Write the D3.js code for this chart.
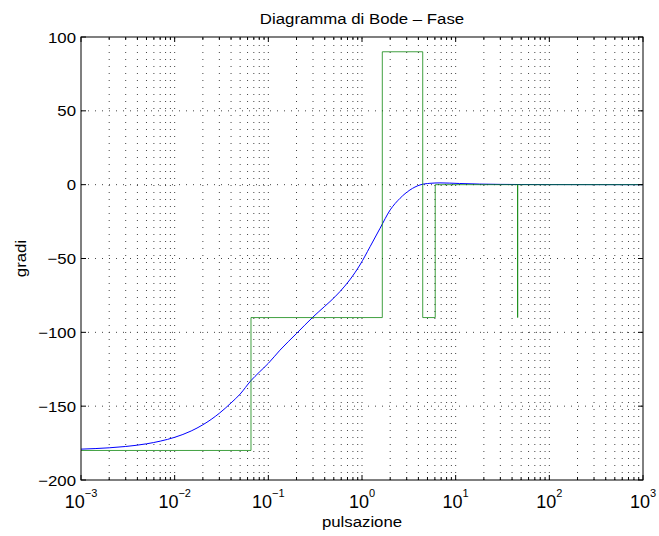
<!DOCTYPE html>
<html>
<head>
<meta charset="utf-8">
<script src="https://cdn.jsdelivr.net/npm/d3@7"></script>
<style>
  html, body { margin: 0; padding: 0; background: #fff; }
  svg { display: block; }
  text { font-family: "Liberation Sans", Arial, Helvetica, sans-serif; fill: #000; }
</style>
</head>
<body>
<svg id="chart" width="659" height="536"></svg>
<script>
// ---- data ----
const titleText = "Diagramma di Bode \u2013 Fase";
const xLabelText = "pulsazione";
const yLabelText = "gradi";

const xTickExponents = [-3, -2, -1, 0, 1, 2, 3];
const yTicks = [-200, -150, -100, -50, 0, 50, 100];

// actual phase (blue)
const phaseW   = [0.001, 0.002, 0.003, 0.005, 0.007, 0.01, 0.015, 0.02, 0.03, 0.04, 0.05, 0.065, 0.08, 0.1, 0.133, 0.2, 0.3, 0.4, 0.455, 0.58, 0.74, 0.95, 1.22, 1.56, 2.0, 2.55, 3.25, 4.16, 5.3, 6.8, 11, 18, 50, 100, 1000];
const phaseDeg = [-179.1, -178.2, -177.3, -175.5, -173.7, -171.1, -166.8, -162.6, -154.8, -147.8, -141.8, -132.8, -127.0, -121.0, -112.1, -100.8, -89.6, -82.4, -79.2, -72.5, -64.5, -54.4, -42.0, -29.5, -17.1, -9.2, -3.6, -0.2, 0.9, 1.2, 0.8, 0.4, 0.1, 0.05, 0];

// asymptotic phase (green)
const asymW   = [0.001, 0.0653, 0.0653, 1.647, 1.647, 4.45, 4.45, 6.05, 6.05, 45.9, 45.9, 45.9, 1000];
const asymDeg = [-180, -180, -90, -90, 90, 90, -90, -90, 0, 0, -90, 0, 0];

// ---- layout ----
const L = 81, R = 643, T = 37, B = 480;
const svg = d3.select("#chart");

const x = d3.scaleLog().domain([1e-3, 1e3]).range([L, R]);
const y = d3.scaleLinear().domain([-200, 100]).range([B, T]);

const minorX = [];
for (let e = -3; e < 3; e++) for (let k = 1; k <= 9; k++) minorX.push(k * Math.pow(10, e));
minorX.push(1000);

// grid
const grid = svg.append("g").attr("stroke", "#444").attr("stroke-width", 1).attr("stroke-dasharray", "1,6").attr("fill", "none");
minorX.forEach(v => {
  const px = x(v);
  if (px <= L + 0.5 || px >= R - 0.5) return;
  grid.append("line").attr("x1", px).attr("x2", px).attr("y1", B).attr("y2", T);
});
yTicks.forEach(v => {
  const py = y(v);
  if (py <= T + 0.5 || py >= B - 0.5) return;
  grid.append("line").attr("x1", L).attr("x2", R).attr("y1", py).attr("y2", py);
});

// data lines
const lineGen = d3.line().x(d => x(d[0])).y(d => y(d[1]));
svg.append("path")
  .datum(phaseW.map((w, i) => [w, phaseDeg[i]]))
  .attr("fill", "none").attr("stroke", "#0000ff").attr("stroke-width", 1)
  .attr("d", lineGen.curve(d3.curveMonotoneX));
svg.append("path")
  .datum(asymW.map((w, i) => [w, asymDeg[i]]))
  .attr("fill", "none").attr("stroke", "#008000").attr("stroke-width", 1).attr("stroke-opacity", 0.75)
  .attr("d", d3.line().x(d => x(d[0])).y(d => y(d[1]))(asymW.map((w, i) => [w, asymDeg[i]])));

// ticks
const tk = svg.append("g").attr("stroke", "#000").attr("stroke-width", 1);
minorX.forEach(v => {
  const px = x(v);
  const major = Math.abs(Math.log10(v) - Math.round(Math.log10(v))) < 1e-9;
  const len = major ? 5 : 3;
  tk.append("line").attr("x1", px).attr("x2", px).attr("y1", B).attr("y2", B - len);
  tk.append("line").attr("x1", px).attr("x2", px).attr("y1", T).attr("y2", T + len);
});
yTicks.forEach(v => {
  const py = y(v);
  tk.append("line").attr("x1", L).attr("x2", L + 5).attr("y1", py).attr("y2", py);
  tk.append("line").attr("x1", R).attr("x2", R - 5).attr("y1", py).attr("y2", py);
});

// box
svg.append("rect").attr("x", L).attr("y", T).attr("width", R - L).attr("height", B - T)
  .attr("fill", "none").attr("stroke", "#000").attr("stroke-width", 1);

// text helper: stretched Helvetica-like text
const SX = 1.12;
function stext(px, py, str, anchor, size, rotate) {
  const g = svg.append("g").attr("transform", `translate(${px},${py})` + (rotate ? ` rotate(${rotate})` : "") + ` scale(${SX},1)`);
  return g.append("text").attr("text-anchor", anchor).attr("font-size", size).text(str);
}

// y tick labels
yTicks.forEach(v => {
  stext(76, y(v) + 5.5, v < 0 ? "\u2212" + Math.abs(v) : String(v), "end", 15);
});

// x tick labels 10^n
xTickExponents.forEach(e => {
  const px = x(Math.pow(10, e));
  const t = svg.append("text").attr("x", px).attr("y", 507.5).attr("text-anchor", "middle");
  t.append("tspan").attr("font-size", 18).text("10");
  t.append("tspan").attr("font-size", 11).attr("dy", -11).text(e < 0 ? "\u2212" + Math.abs(e) : String(e));
});

// title and axis labels
stext((L + R) / 2, 24, titleText, "middle", 15);
stext((L + R) / 2, 527, xLabelText, "middle", 15);
stext(26, (T + B) / 2, yLabelText, "middle", 15, -90);
</script>
</body>
</html>
